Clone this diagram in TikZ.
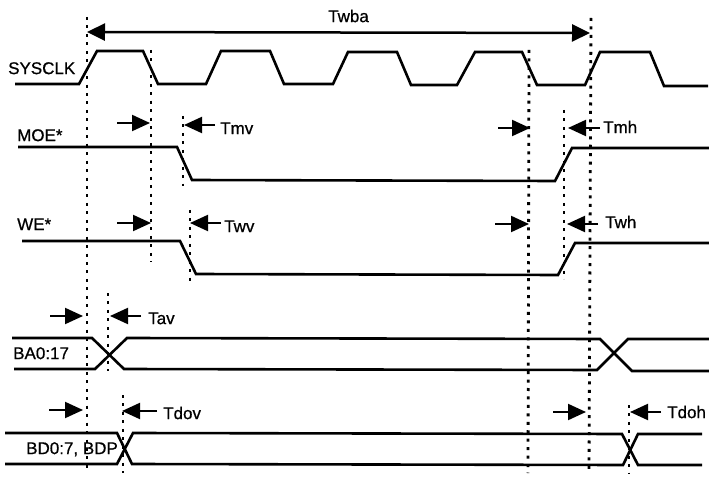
\documentclass[tikz,border=0pt]{standalone}
\usepackage{fontspec}
\setmainfont{Liberation Sans}
\newfontfamily\lblfont{Liberation Sans}[FakeBold=0.7]
\usetikzlibrary{arrows.meta}
\tikzset{
  sig/.style={line width=2.6pt,line join=miter,black},
  guide/.style={line width=2.8pt,dash pattern=on 3pt off 5.45pt,black},
  timearrow/.style={line width=2.1pt,-{Triangle[length=18pt,width=16pt]}},
  span/.style={line width=2.5pt,{Triangle[length=18pt,width=17pt]}-{Triangle[length=18pt,width=17pt]}},
  lbl/.style={anchor=west,inner sep=0pt,text height=12.2pt,text depth=0pt,font=\lblfont\fontsize{17}{20}\selectfont},
}
\begin{document}
\begin{tikzpicture}[x=1pt,y=-1pt]
\useasboundingbox (0,0) rectangle (709,478);
\fill[white] (0,0) rectangle (709,478);
% guides
\draw[guide] (87,17) -- (87,473);
\draw[guide] (151,50) -- (151,262);
\draw[guide] (183,116) -- (183,186);
\draw[guide] (190,210) -- (190,286);
\draw[guide] (108,293) -- (108,371);
\draw[guide] (123,395) -- (123,473);
\draw[guide] (529,50) -- (528,473);
\draw[guide] (591,18) -- (589,473);
\draw[guide] (564,110) -- (564,279);
\draw[guide] (629,405) -- (629,473);
% signals
\draw[sig] (15,84) -- (79,84) -- (97,51) -- (143,51) -- (158,84) -- (206,84) -- (221,51) -- (270,51) -- (284,84) -- (333,84) -- (348,52) -- (397,52) -- (411,85) -- (457,85) -- (475,52) -- (522,52) -- (537,85) -- (585,85) -- (600,52) -- (650,52) -- (664,86) -- (708,86);
\draw[sig] (18,147) -- (177,147) -- (192,180) -- (555,181) -- (572,148) -- (709,148);
\draw[sig] (22,241) -- (180,241) -- (196,274) -- (558,275) -- (575,243) -- (709,243);
\draw[sig] (12,338) -- (92,338) -- (124,369) -- (597,370) -- (628,339) -- (709,339);
\draw[sig] (14,369) -- (95,369) -- (127,338) -- (600,339) -- (632,371) -- (709,371);
\draw[sig] (5,433) -- (117,433) -- (132,464) -- (623,465) -- (638,434) -- (702,434);
\draw[sig] (5,464) -- (117,464) -- (133,433) -- (622,434) -- (638,465) -- (702,465);
% arrows
\draw[span] (87,32) -- (590,33);
\draw[timearrow] (117,123) -- (150,123);
\draw[timearrow] (215,125) -- (184,125);
\draw[timearrow] (117,223) -- (151,223);
\draw[timearrow] (221,223) -- (190,223);
\draw[timearrow] (498,128) -- (530,128);
\draw[timearrow] (600,128) -- (568,128);
\draw[timearrow] (495,224) -- (529,224);
\draw[timearrow] (598,224) -- (567,224);
\draw[timearrow] (50,316) -- (83,316);
\draw[timearrow] (141,316) -- (110,316);
\draw[timearrow] (49,410) -- (83,410);
\draw[timearrow] (157,411) -- (122,411);
\draw[timearrow] (553,412) -- (586,412);
\draw[timearrow] (661,412) -- (630,412);
% labels
\node[lbl] (twba) at (328,16) {Twba};
\node[lbl] (sysclk) at (8,68) {SYSCLK};
\node[lbl] (moe) at (17,135) {MOE*};
\node[lbl] (we) at (17,224) {WE*};
\node[lbl] (tmv) at (220,128) {Tmv};
\node[lbl] (twv) at (224,226) {Twv};
\node[lbl] (tmh) at (603,127) {Tmh};
\node[lbl] (twh) at (605,222) {Twh};
\node[lbl] (tav) at (148,318) {Tav};
\node[lbl] (ba) at (13,353) {BA0:17};
\node[lbl] (tdov) at (163,413) {Tdov};
\node[lbl] (bd) at (26,448) {BD0:7, BDP};
\node[lbl] (tdoh) at (667,412) {Tdoh};
\end{tikzpicture}
\end{document}
